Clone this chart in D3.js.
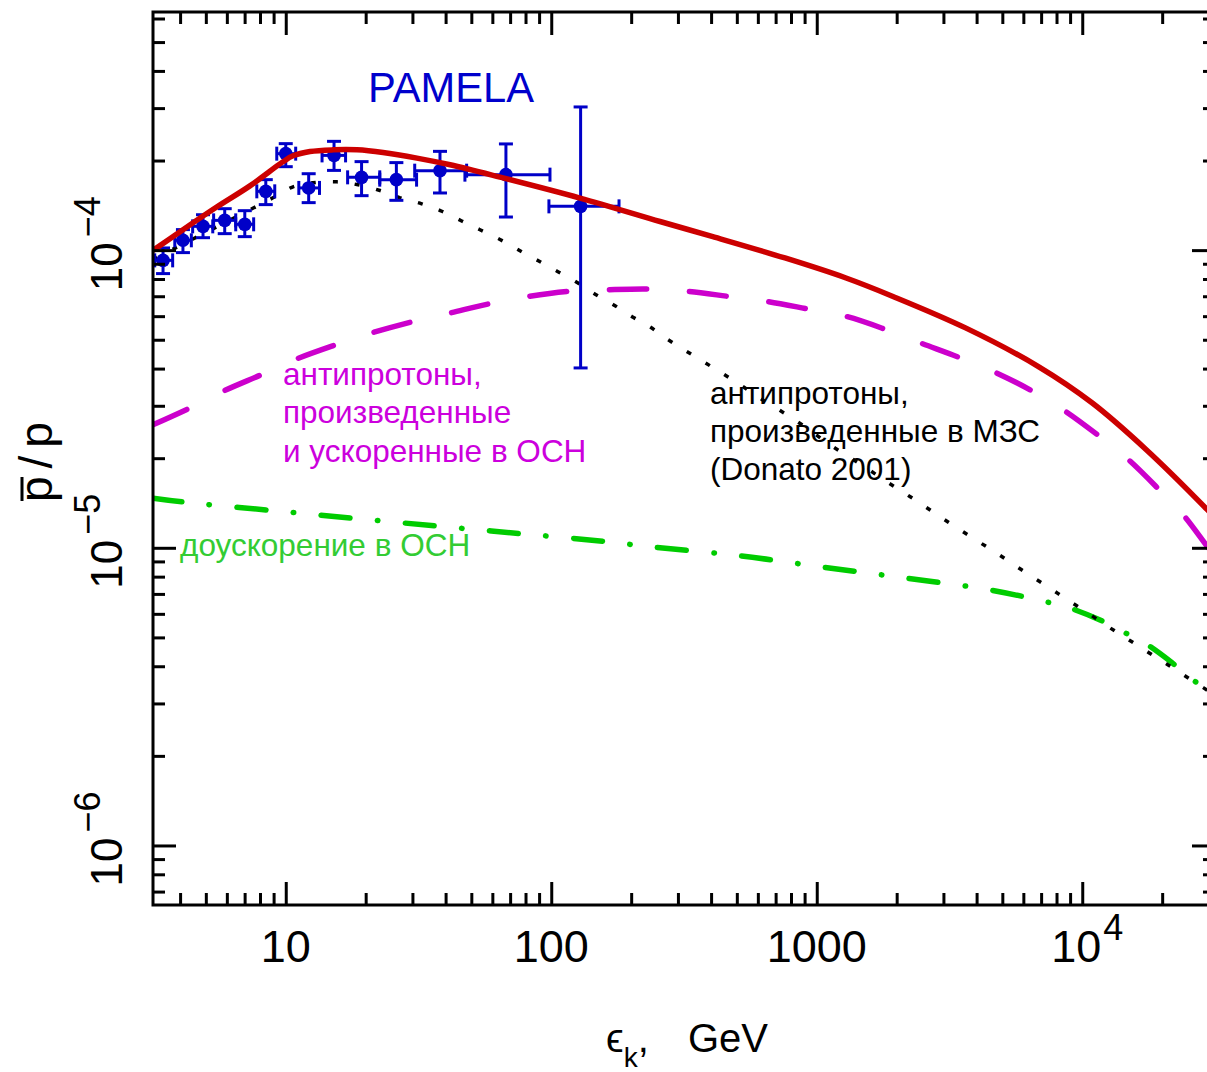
<!DOCTYPE html>
<html><head><meta charset="utf-8">
<script src="https://cdn.jsdelivr.net/npm/d3@7"></script>
<style>
html,body{margin:0;padding:0;background:#fff;}
svg{display:block;}
text{font-family:"Liberation Sans", Arial, Helvetica, sans-serif;}
</style>
</head><body>
<svg id="chart" width="1207" height="1072"></svg>
<script>
// ---------- data ----------
// PAMELA antiproton/proton ratio points
const pamelaE    = [3.45, 4.10, 4.88, 5.89, 7.01, 8.41, 10.0, 12.2, 15.2, 19.3, 26.1, 38.1, 67.5, 129];
const pamelaR    = [9.24e-5, 1.079e-4, 1.202e-4, 1.259e-4, 1.221e-4, 1.576e-4, 2.109e-4, 1.618e-4, 2.081e-4, 1.756e-4, 1.725e-4, 1.849e-4, 1.793e-4, 1.403e-4];
const pamelaElo  = [3.21, 3.82, 4.46, 5.35, 6.48, 7.78, 9.25, 11.2, 13.7, 17.1, 22.6, 30.6, 47.3, 98.0];
const pamelaEhi  = [3.75, 4.41, 5.31, 6.48, 7.57, 9.09, 10.9, 13.4, 16.8, 22.6, 31.1, 48.0, 98.9, 180];
const pamelaRlo  = [8.34e-5, 9.81e-5, 1.101e-4, 1.136e-4, 1.110e-4, 1.422e-4, 1.907e-4, 1.444e-4, 1.853e-4, 1.524e-4, 1.470e-4, 1.556e-4, 1.292e-4, 4.02e-5];
const pamelaRhi  = [1.017e-4, 1.172e-4, 1.315e-4, 1.378e-4, 1.357e-4, 1.725e-4, 2.279e-4, 1.806e-4, 2.320e-4, 1.983e-4, 1.968e-4, 2.147e-4, 2.274e-4, 3.027e-4];

// total (red solid)
const totalE = [3.162, 4.10, 5.51, 7.33, 9.76, 10.65, 12.34, 15.07, 18.55, 23.25, 31.2, 41.6, 64.1, 128.3, 256.8, 403, 759, 1289, 1937, 3634, 6813, 10880, 17384, 29500, 31623];
const totalR = [9.98e-5, 1.171e-4, 1.398e-4, 1.644e-4, 1.980e-4, 2.074e-4, 2.144e-4, 2.172e-4, 2.172e-4, 2.128e-4, 2.038e-4, 1.935e-4, 1.759e-4, 1.496e-4, 1.248e-4, 1.112e-4, 9.41e-5, 8.06e-5, 6.99e-5, 5.48e-5, 4.07e-5, 3.07e-5, 2.14e-5, 1.346e-5, 1.26e-5];

// produced and accelerated in SNR (magenta dashed)
const snrE = [3.162, 4.36, 5.82, 8.12, 11.0, 15.56, 21.07, 30.23, 41.56, 58.8, 81.9, 117.7, 161.7, 235.5, 324.6, 465.6, 647.4, 928.6, 1290, 1821, 2455, 3464, 4742, 6490, 8610, 11600, 14900, 19450, 24230, 29510, 31623];
const snrR = [2.59e-5, 2.95e-5, 3.36e-5, 3.82e-5, 4.31e-5, 4.82e-5, 5.27e-5, 5.76e-5, 6.15e-5, 6.61e-5, 6.99e-5, 7.28e-5, 7.36e-5, 7.40e-5, 7.27e-5, 6.99e-5, 6.73e-5, 6.34e-5, 5.99e-5, 5.41e-5, 4.88e-5, 4.35e-5, 3.87e-5, 3.36e-5, 2.88e-5, 2.37e-5, 1.98e-5, 1.57e-5, 1.278e-5, 1.013e-5, 9.36e-6];

// re-acceleration in SNR (green dash-dot)
const reaccE = [3.162, 4.17, 8.57, 17.77, 37.1, 76.3, 157.0, 242.3, 499.4, 1028.5, 2118, 4366, 7133, 8858, 11670, 14080, 17230, 21720, 25840, 29510, 31623];
const reaccR = [1.468e-5, 1.423e-5, 1.338e-5, 1.258e-5, 1.183e-5, 1.116e-5, 1.052e-5, 1.005e-5, 9.43e-6, 8.64e-6, 7.93e-6, 7.25e-6, 6.62e-6, 6.30e-6, 5.72e-6, 5.25e-6, 4.78e-6, 4.12e-6, 3.62e-6, 3.35e-6, 3.17e-6];

// ISM secondary (Donato 2001, black dotted)
const ismE = [3.162, 3.83, 8.95, 10.65, 12.66, 15.6, 18.72, 22.65, 26.94, 32.5, 38.7, 46.0, 53.9, 64.1, 75.1, 89.4, 105.6, 124.7, 144.0, 171.3, 200.9, 235.5, 273.1, 319.6, 377.5, 441.6, 519.7, 607.5, 711.0, 831.8, 972.9, 1120.7, 1311, 1557, 1821, 2131, 2491, 2912, 3413, 3997, 4713, 5500, 6412, 7513, 8738, 10240, 12000, 14080, 16400, 19340, 22550, 26590, 31623];
const ismR = [9.31e-5, 1.016e-4, 1.499e-4, 1.632e-4, 1.683e-4, 1.696e-4, 1.658e-4, 1.586e-4, 1.499e-4, 1.431e-4, 1.351e-4, 1.253e-4, 1.171e-4, 1.086e-4, 1.003e-4, 9.21e-5, 8.48e-5, 7.80e-5, 7.18e-5, 6.56e-5, 5.99e-5, 5.52e-5, 5.03e-5, 4.60e-5, 4.20e-5, 3.85e-5, 3.51e-5, 3.19e-5, 2.93e-5, 2.68e-5, 2.43e-5, 2.22e-5, 2.03e-5, 1.84e-5, 1.674e-5, 1.531e-5, 1.398e-5, 1.272e-5, 1.159e-5, 1.059e-5, 9.65e-6, 8.80e-6, 8.04e-6, 7.35e-6, 6.71e-6, 6.13e-6, 5.57e-6, 5.08e-6, 4.66e-6, 4.24e-6, 3.89e-6, 3.53e-6, 3.20e-6];

// ticks
const xTickValues = [10, 100, 1000, 10000];
const xTickBase   = ["10", "100", "1000", "10"];
const xTickSup    = ["", "", "", "4"];
const yTickValues = [1e-4, 1e-5, 1e-6];
const yTickBase   = ["10", "10", "10"];
const yTickSup    = ["\u22124", "\u22125", "\u22126"];

// texts
const titleData   = "PAMELA";
const snrLabel    = ["антипротоны,", "произведенные", "и ускоренные в ОСН"];
const ismLabel    = ["антипротоны,", "произведенные в МЗС", "(Donato 2001)"];
const reaccLabel  = "доускорение в ОСН";

// ---------- drawing ----------
const L = 153, R = 1215, T = 12, B = 905;
const svg = d3.select("#chart");
svg.append("rect").attr("width",1207).attr("height",1072).attr("fill","#fff");

const x = d3.scaleLog().domain([Math.pow(10,0.5), Math.pow(10,4.5)]).range([L, R]);
const y = d3.scaleLog().domain([Math.pow(10,-6.2), Math.pow(10,-3.2)]).range([B, T]);

svg.append("defs").append("clipPath").attr("id","clip")
  .append("rect").attr("x",L).attr("y",T).attr("width",R-L).attr("height",B-T);

const plot = svg.append("g").attr("clip-path","url(#clip)");

const line = d3.line().x(d=>x(d[0])).y(d=>y(d[1])).curve(d3.curveCatmullRom.alpha(0.5));
const zip = (a,b)=>a.map((v,i)=>[v,b[i]]);

// magenta dashed
plot.append("path").attr("d", line(zip(snrE, snrR)))
  .attr("fill","none").attr("stroke","#cc00cc").attr("stroke-width",5.5)
  .attr("stroke-linecap","round").attr("stroke-dasharray","37,43");
// green dash-dot
plot.append("path").attr("d", line(zip(reaccE, reaccR)))
  .attr("fill","none").attr("stroke","#00cc00").attr("stroke-width",5.5)
  .attr("stroke-linecap","round").attr("stroke-dasharray","29,27.5,0.5,27.5");
// black dotted
plot.append("path").attr("d", line(zip(ismE, ismR)))
  .attr("fill","none").attr("stroke","#000").attr("stroke-width",3.5)
  .attr("stroke-dasharray","5,17");

// data points
const blue = "#0000c8";
const pts = pamelaE.map((e,i)=>({e, r:pamelaR[i], elo:pamelaElo[i], ehi:pamelaEhi[i], rlo:pamelaRlo[i], rhi:pamelaRhi[i]}));
const cap = 7;
const pg = plot.append("g").attr("stroke", blue).attr("stroke-width",3);
pts.forEach(p=>{
  const cx = x(p.e), cy = y(p.r);
  pg.append("line").attr("x1",x(p.elo)).attr("x2",x(p.ehi)).attr("y1",cy).attr("y2",cy);
  pg.append("line").attr("x1",x(p.elo)).attr("x2",x(p.elo)).attr("y1",cy-cap).attr("y2",cy+cap);
  pg.append("line").attr("x1",x(p.ehi)).attr("x2",x(p.ehi)).attr("y1",cy-cap).attr("y2",cy+cap);
  pg.append("line").attr("x1",cx).attr("x2",cx).attr("y1",y(p.rlo)).attr("y2",y(p.rhi));
  pg.append("line").attr("x1",cx-cap).attr("x2",cx+cap).attr("y1",y(p.rlo)).attr("y2",y(p.rlo));
  pg.append("line").attr("x1",cx-cap).attr("x2",cx+cap).attr("y1",y(p.rhi)).attr("y2",y(p.rhi));
});
plot.append("g").selectAll("circle").data(pts).join("circle")
  .attr("cx",d=>x(d.e)).attr("cy",d=>y(d.r)).attr("r",6.8).attr("fill",blue);

// red solid
plot.append("path").attr("d", line(zip(totalE, totalR)))
  .attr("fill","none").attr("stroke","#cc0000").attr("stroke-width",5.5)
  .attr("stroke-linejoin","round");

// ---------- axes ----------
function minorTicks(domain){
  const out=[];
  for(let p=-8;p<=6;p++){ for(let m=2;m<=9;m++){ const v=m*Math.pow(10,p); if(v>domain[0]&&v<domain[1]) out.push(v);} }
  return out;
}
const xMinor = minorTicks(x.domain());
const yMinor = minorTicks(y.domain());
function ticks(gen, values, size, tr){
  svg.append("g").attr("transform",tr)
    .call(gen.tickValues(values).tickSize(size).tickSizeOuter(0).tickFormat(""))
    .call(g=>g.select(".domain").remove())
    .call(g=>g.selectAll("line").attr("stroke","#000").attr("stroke-width",3));
}
ticks(d3.axisBottom(x), xTickValues, -23, `translate(0,${B})`);
ticks(d3.axisBottom(x), xMinor, -12, `translate(0,${B})`);
ticks(d3.axisTop(x), xTickValues, -23, `translate(0,${T})`);
ticks(d3.axisTop(x), xMinor, -12, `translate(0,${T})`);
ticks(d3.axisLeft(y), yTickValues, -23, `translate(${L},0)`);
ticks(d3.axisLeft(y), yMinor, -12, `translate(${L},0)`);
ticks(d3.axisRight(y), yTickValues, -23, `translate(${R},0)`);
ticks(d3.axisRight(y), yMinor, -12, `translate(${R},0)`);

svg.append("rect").attr("x",L).attr("y",T).attr("width",R-L).attr("height",B-T)
  .attr("fill","none").attr("stroke","#000").attr("stroke-width",3);

// x tick labels
xTickValues.forEach((v,i)=>{
  const t = svg.append("text").attr("x", x(v) + (xTickSup[i] ? 5 : 0)).attr("y", 962)
    .attr("text-anchor","middle").attr("font-size",45).attr("fill","#000");
  t.append("tspan").text(xTickBase[i]);
  if (xTickSup[i]) t.append("tspan").attr("dy",-22).attr("dx",2).attr("font-size",36).text(xTickSup[i]);
});
// y tick labels (rotated)
yTickValues.forEach((v,i)=>{
  const g = svg.append("g").attr("transform",`translate(122,${y(v)+41}) rotate(-90)`);
  const t = g.append("text").attr("x",0).attr("y",0).attr("font-size",44).attr("fill","#000");
  t.append("tspan").text(yTickBase[i]);
  t.append("tspan").attr("dy",-22).attr("dx",5).attr("font-size",36).text(yTickSup[i]);
});

// axis titles
const xt = svg.append("text").attr("y",1052).attr("font-size",40).attr("fill","#000");
xt.append("tspan").attr("x",606).text("\u03F5");
xt.append("tspan").attr("font-size",28).attr("dy",15).text("k");
xt.append("tspan").attr("dy",-15).text(",");
xt.append("tspan").attr("x",688).text("GeV");

const yt = svg.append("g").attr("transform","translate(52,461) rotate(-90)");
yt.append("text").attr("x",-41).attr("y",0).attr("font-size",46).attr("letter-spacing",8)
  .attr("fill","#000").text("p/p");
yt.append("line").attr("x1",-40).attr("x2",-16).attr("y1",-30).attr("y2",-30)
  .attr("stroke","#000").attr("stroke-width",3);

// annotations
svg.append("text").attr("x",368).attr("y",101.5).attr("font-size",42)
  .attr("textLength",166).attr("lengthAdjust","spacingAndGlyphs")
  .attr("fill","#0000cc").text(titleData);

snrLabel.forEach((s,i)=>{
  svg.append("text").attr("x",283).attr("y",385+i*38.3).attr("font-size",31.5)
    .attr("fill","#cc00dd").text(s);
});
ismLabel.forEach((s,i)=>{
  svg.append("text").attr("x",710).attr("y",403.5+i*38.3).attr("font-size",31.5)
    .attr("fill","#000").text(s);
});
svg.append("text").attr("x",180).attr("y",556).attr("font-size",31.5)
  .attr("fill","#33cc33").text(reaccLabel);
</script>
</body></html>
